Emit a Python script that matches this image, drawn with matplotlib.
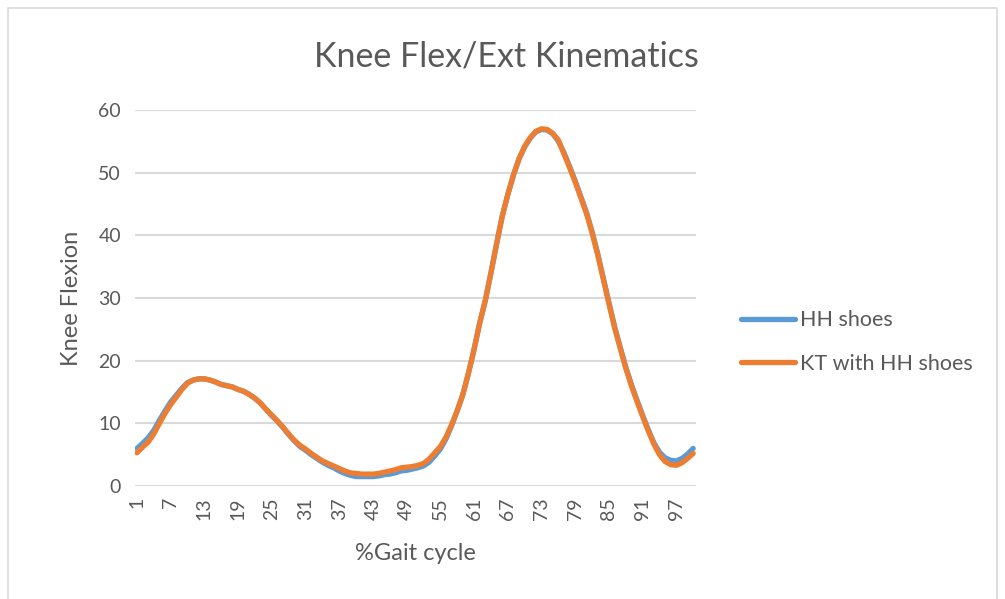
import matplotlib.pyplot as plt
from matplotlib.patches import Rectangle

# %Gait cycle categories 1..100
gait = list(range(1, 101))

# Knee flexion (deg)
hh_shoes = [
    6.0, 6.8, 7.7, 8.9, 10.5, 12.0, 13.4, 14.5, 15.6, 16.5,
    16.9, 17.1, 17.1, 16.9, 16.6, 16.2, 16.0, 15.8, 15.4, 15.1,
    14.6, 14.0, 13.2, 12.2, 11.2, 10.3, 9.3, 8.2, 7.2, 6.3,
    5.7, 5.0, 4.4, 3.8, 3.3, 2.9, 2.4, 2.0, 1.7, 1.5,
    1.5, 1.5, 1.5, 1.6, 1.8, 1.9, 2.1, 2.4, 2.5, 2.7,
    2.9, 3.2, 3.8, 4.8, 5.9, 7.5, 9.6, 12.0, 14.6, 18.0,
    21.8, 26.0, 29.6, 34.0, 38.6, 43.0, 46.5, 49.6, 52.2, 54.1,
    55.5, 56.5, 56.9, 56.8, 56.2, 55.0, 53.2, 51.0, 48.7, 46.2,
    43.7, 40.6, 37.1, 33.2, 29.3, 25.5, 22.2, 19.0, 16.2, 13.7,
    11.3, 9.0, 6.9, 5.4, 4.5, 4.1, 4.0, 4.4, 5.1, 6.0,
]
kt_hh_shoes = [
    5.3, 6.2, 7.0, 8.3, 10.0, 11.6, 13.0, 14.2, 15.4, 16.4,
    16.9, 17.1, 17.1, 16.9, 16.6, 16.2, 16.0, 15.8, 15.4, 15.1,
    14.6, 14.0, 13.2, 12.2, 11.3, 10.4, 9.4, 8.3, 7.3, 6.5,
    5.9, 5.2, 4.6, 4.0, 3.6, 3.2, 2.8, 2.4, 2.1, 2.0,
    1.9, 1.9, 1.9, 2.0, 2.2, 2.4, 2.6, 2.9, 3.0, 3.1,
    3.3, 3.6, 4.3, 5.3, 6.3, 7.8, 9.8, 12.0, 14.6, 18.0,
    21.8, 26.0, 29.6, 34.0, 38.6, 43.0, 46.5, 49.6, 52.2, 54.2,
    55.6, 56.6, 57.0, 56.9, 56.3, 55.2, 53.0, 50.8, 48.5, 46.0,
    43.5, 40.4, 36.9, 33.0, 29.1, 25.3, 22.0, 18.8, 16.0, 13.5,
    11.1, 8.8, 6.7, 5.0, 3.9, 3.4, 3.3, 3.7, 4.4, 5.2,
]
x_ticks = list(range(1, 101, 6))
y_ticks = [0, 10, 20, 30, 40, 50, 60]

text_color = "#595959"
font = ["Lato", "DejaVu Sans"]
plt.rcParams["font.family"] = font

fig = plt.figure(figsize=(10.05, 5.99), dpi=100)
# light chart-area frame like the Excel export
fig.patches.append(Rectangle((8 / 1005, -0.1), 989 / 1005, 1.1 - 8 / 599,
                             transform=fig.transFigure, fill=False,
                             edgecolor="#D9D9D9", linewidth=1.2))

ax = fig.add_axes([135 / 1005, 113 / 599, 561 / 1005, 376 / 599])

ax.plot(gait, hh_shoes, color="#5B9BD5", linewidth=3.8, label="HH shoes",
        solid_capstyle="round", solid_joinstyle="round")
ax.plot(gait, kt_hh_shoes, color="#ED7D31", linewidth=3.8, label="KT with HH shoes",
        solid_capstyle="round", solid_joinstyle="round")

ax.set_xlim(0.65, 100.5)
ax.set_ylim(0, 60)
ax.set_yticks(y_ticks)
ax.set_xticks(x_ticks)
ax.set_xticklabels([str(t) for t in x_ticks], rotation=90)
ax.grid(axis="y", color="#D9D9D9", linewidth=1.5)
ax.set_axisbelow(True)
for s in ax.spines.values():
    s.set_visible(False)
ax.tick_params(axis="both", length=0, labelsize=14, labelcolor=text_color)
ax.tick_params(axis="y", pad=10)
ax.tick_params(axis="x", pad=8)

# title is centred on the whole chart, not the plot area
fig.text(506 / 1005, 1 - 56 / 599, "Knee Flex/Ext Kinematics", fontsize=24.5,
         color=text_color, ha="center", va="center")
ax.set_ylabel("Knee Flexion", fontsize=17, color=text_color, labelpad=12)
ax.set_xlabel("%Gait cycle", fontsize=17, color=text_color, labelpad=17)

fig.legend(loc="center left", bbox_to_anchor=(722 / 1005, 1 - 342 / 599),
           frameon=False, fontsize=15.5, labelcolor=text_color,
           handlelength=2.5, handletextpad=0.2, labelspacing=1.1)

fig.savefig("out.png", dpi=100)
